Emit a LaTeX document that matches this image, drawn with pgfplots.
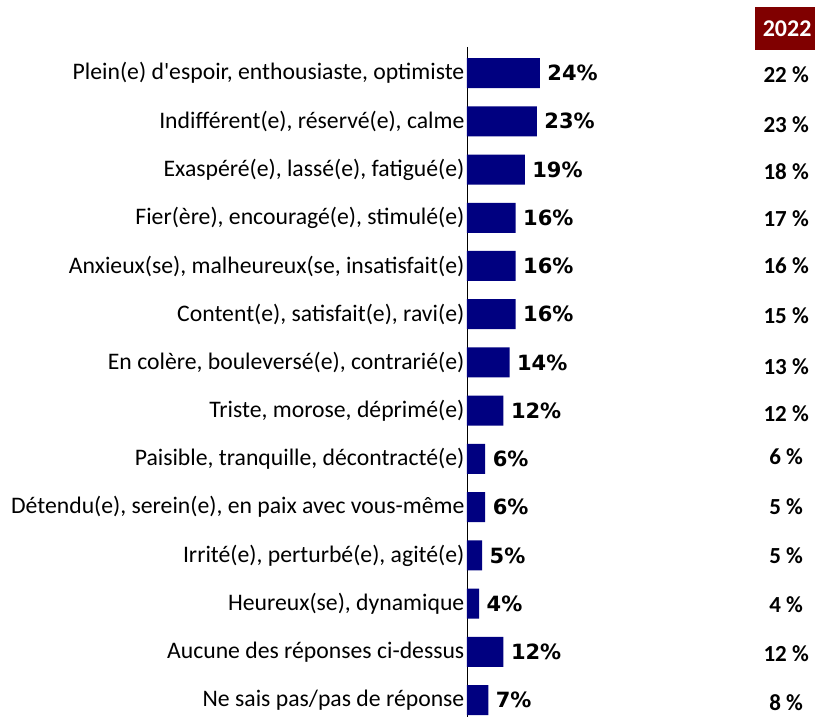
\documentclass[border=0pt]{standalone}
\usepackage{fontspec}
\setmainfont{Carlito}[Ligatures=TeXOff]
\newfontfamily\verd{DejaVu Sans}
\usepackage{pgfplots}
\usepackage{pgfplotstable}
\pgfplotsset{compat=1.18}
\definecolor{navybar}{RGB}{0,0,128}
\definecolor{darkred}{RGB}{128,0,0}

% idx = row, v = current value, y22/v22 = 2022 column
\pgfplotstableread{
idx v  y22  v22
0   24 0.04 22
1   23 1.06 23
2   19 2.05 18
3   16 3.01 17
4   16 4.00 16
5   16 5.04 15
6   14 6.08 13
7   12 7.07 12
8   6  7.95 6
9   6  8.98 5
10  5  10.00 5
11  4  11.02 4
12  12 12.03 12
13  7  13.05 8
}\emotions

\begin{document}
\begin{tikzpicture}
\path[use as bounding box] (-467pt,0pt) rectangle (348pt,717pt);
\begin{axis}[
  at={(0,0)}, anchor=south west,
  scale only axis,
  width=304pt, height=670pt,
  xmin=0, xmax=100,
  ymin=-0.54, ymax=13.35,
  y dir=reverse,
  clip=false,
  axis x line=none,
  axis y line=left,
  y axis line style={-, black, line width=0.9pt},
  major tick length=0pt,
  ytick={0,...,13},
  yticklabels={
    {Plein(e) d'espoir, enthousiaste, optimiste},
    {Indifférent(e), réservé(e), calme},
    {Exaspéré(e), lassé(e), fatigué(e)},
    {Fier(ère), encouragé(e), stimulé(e)},
    {Anxieux(se), malheureux(se, insatisfait(e)},
    {Content(e), satisfait(e), ravi(e)},
    {En colère, bouleversé(e), contrarié(e)},
    {Triste, morose, déprimé(e)},
    {Paisible, tranquille, décontracté(e)},
    {Détendu(e), serein(e), en paix avec vous-même},
    {Irrité(e), perturbé(e), agité(e)},
    {Heureux(se), dynamique},
    {Aucune des réponses ci-dessus},
    {Ne sais pas/pas de réponse}},
  yticklabel style={font=\fontsize{23.7}{28}\selectfont, inner sep=2.5pt},
]
\addplot[xbar, bar shift=0pt, bar width=30pt, fill=navybar, draw=none,
  point meta=explicit symbolic,
  nodes near coords={\pgfplotspointmeta\%},
  nodes near coords style={font=\verd\bfseries\fontsize{21}{25}\selectfont, anchor=west, text=black, xshift=4pt}]
  table[x=v, y=idx, meta=v] {\emotions};
\addplot[draw=none, mark=none,
  point meta=explicit symbolic,
  nodes near coords={\pgfplotspointmeta~\%},
  nodes near coords style={font=\bfseries\fontsize{23}{27}\selectfont, anchor=center, text=black}]
  table[x expr=105, y=y22, meta=v22] {\emotions};
\node[fill=darkred, text=white, font=\bfseries\fontsize{24}{28}\selectfont,
  minimum width=62pt, minimum height=43pt, inner sep=0pt, anchor=west]
  at (axis cs:94.7,-0.92) {\hspace*{2pt}2022};
\end{axis}
\end{tikzpicture}
\end{document}
